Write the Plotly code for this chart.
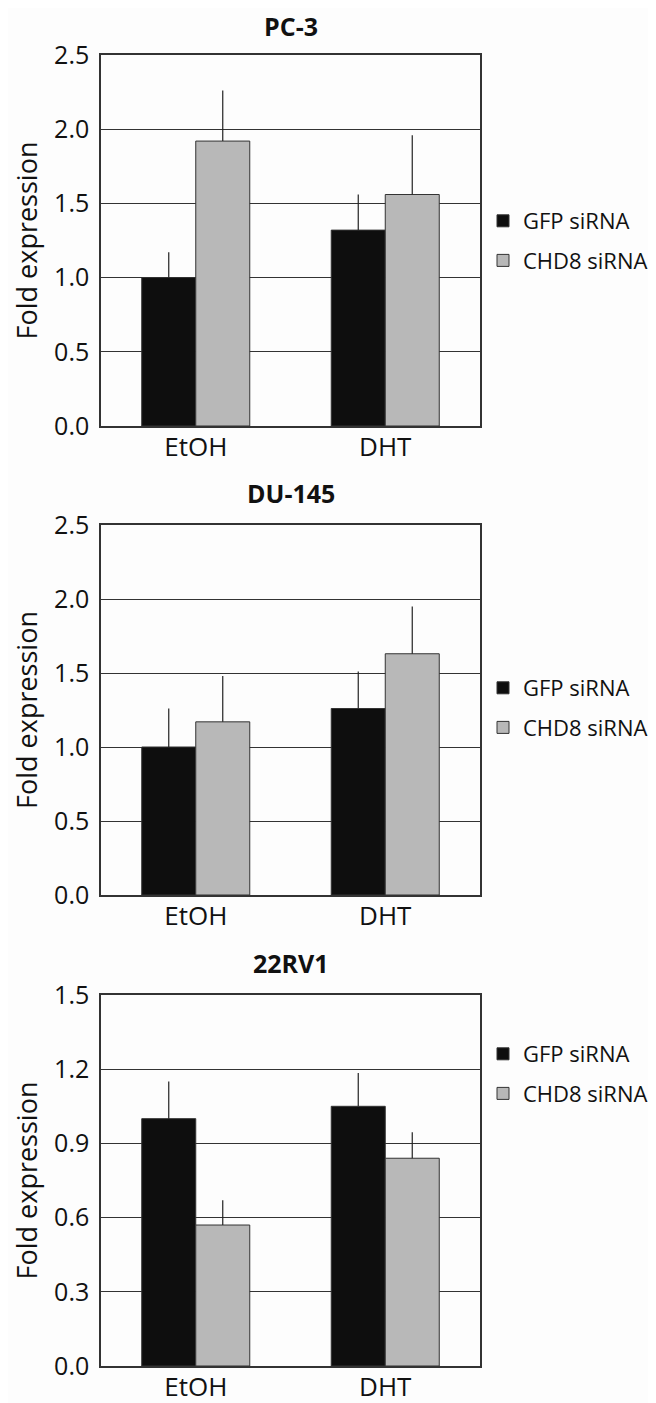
import plotly.graph_objects as go

categories = ["EtOH", "DHT"]
series_names = ["GFP siRNA", "CHD8 siRNA"]
panel_titles = ["PC-3", "DU-145", "22RV1"]

pc3_gfp = [1.00, 1.32]
pc3_gfp_err = [0.17, 0.24]
pc3_chd8 = [1.92, 1.56]
pc3_chd8_err = [0.34, 0.40]

du145_gfp = [1.00, 1.26]
du145_gfp_err = [0.26, 0.25]
du145_chd8 = [1.17, 1.63]
du145_chd8_err = [0.31, 0.32]

rv1_gfp = [1.00, 1.05]
rv1_gfp_err = [0.15, 0.135]
rv1_chd8 = [0.57, 0.84]
rv1_chd8_err = [0.10, 0.105]

ytick_vals_a = [0.0, 0.5, 1.0, 1.5, 2.0, 2.5]
ytick_text_a = ["0.0", "0.5", "1.0", "1.5", "2.0", "2.5"]
ytick_vals_b = [0.0, 0.3, 0.6, 0.9, 1.2, 1.5]
ytick_text_b = ["0.0", "0.3", "0.6", "0.9", "1.2", "1.5"]

# the page body adds an 8px offset; size the figure to fill the rest of the window
OFF = 8
W, H = 656 - OFF, 1403 - OFF
FONT = "Open Sans"
colors = ["#0e0e0e", "#b8b8b8"]


def px_x(px):
    return (px - OFF) / W


def px_y(py):
    return 1 - (py - OFF) / H


panels = [
    (pc3_gfp, pc3_gfp_err, pc3_chd8, pc3_chd8_err, ytick_vals_a, ytick_text_a, (55, 426)),
    (du145_gfp, du145_gfp_err, du145_chd8, du145_chd8_err, ytick_vals_a, ytick_text_a, (525, 895)),
    (rv1_gfp, rv1_gfp_err, rv1_chd8, rv1_chd8_err, ytick_vals_b, ytick_text_b, (995, 1366)),
]
legend_tops = [200, 667, 1033]
title_y = [26, 493, 963]

x_dom = [px_x(101), px_x(480)]
fig = go.Figure()
layout = dict(
    width=W, height=H,
    margin=dict(l=0, r=0, t=0, b=0, autoexpand=False),
    paper_bgcolor="#fdfdfd", plot_bgcolor="#fdfdfd",
    barmode="group", bargap=0.43, bargroupgap=0,
    font=dict(family=FONT, color="#111"),
    annotations=[],
)

for i, (g, ge, c, ce, tv, tt, (top, bot)) in enumerate(panels):
    n = "" if i == 0 else str(i + 1)
    leg = "legend" if i == 0 else f"legend{i + 1}"
    for j, (vals, errs) in enumerate([(g, ge), (c, ce)]):
        fig.add_trace(go.Bar(
            x=categories, y=vals, name=series_names[j],
            xaxis="x" + n, yaxis="y" + n,
            marker=dict(color=colors[j], line=dict(color="#333", width=1)),
            error_y=dict(type="data", symmetric=False, array=errs,
                         arrayminus=[0] * len(errs), width=0,
                         thickness=1.2, color="#222"),
            legend=leg, legendgroup=f"g{i}{j}", showlegend=True,
        ))
    ydom = [px_y(bot), px_y(top)]
    layout["xaxis" + n] = dict(
        domain=x_dom, anchor="y" + n, showline=True, linecolor="#333",
        linewidth=1.5, mirror=True, ticks="", ticklabelstandoff=-3,
        automargin=False,
        tickfont=dict(size=26, family=FONT, color="#111"), showgrid=False,
    )
    layout["yaxis" + n] = dict(
        domain=ydom, anchor="x" + n, range=[0, tv[-1]],
        tickvals=tv, ticktext=tt, showline=True, linecolor="#333",
        linewidth=1.5, mirror=True, ticks="", ticklabelstandoff=5,
        showgrid=True, gridcolor="#333", gridwidth=1.3,
        zeroline=False, automargin=False,
        tickfont=dict(size=25, family=FONT, color="#111"),
        title=dict(text="Fold expression", standoff=10,
                   font=dict(size=27, family=FONT, color="#111")),
    )
    layout[leg] = dict(
        x=px_x(483), xanchor="left", y=px_y(legend_tops[i]), yanchor="top",
        bgcolor="rgba(0,0,0,0)", font=dict(size=22, family=FONT, color="#111"),
        tracegroupgap=8, itemclick=False,
    )
    layout["annotations"].append(dict(
        text=f"<b>{panel_titles[i]}</b>", xref="paper", yref="paper",
        x=(x_dom[0] + x_dom[1]) / 2, y=px_y(title_y[i]),
        xanchor="center", yanchor="middle", showarrow=False,
        font=dict(size=25, family=FONT, color="#111"),
    ))

fig.update_layout(**layout)
fig.write_html("out.html")
